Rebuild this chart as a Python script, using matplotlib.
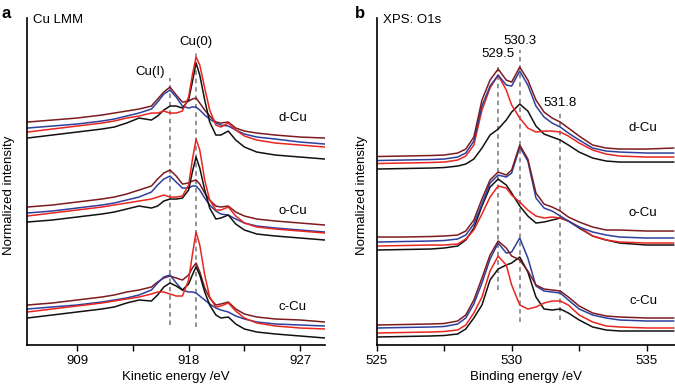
import numpy as np
import matplotlib
matplotlib.use("Agg")
import matplotlib.pyplot as plt

# ---- panel a: Cu LMM (kinetic energy, eV) ----
ke = [905, 907, 909, 911, 912, 913, 914, 915, 915.5, 916, 916.5, 917, 917.5, 918,
      918.3, 918.6, 918.9, 919.3, 919.7, 920.2, 920.6, 921.2, 921.8, 922.5, 923.5,
      925, 927, 929]

lmm_d_black = [207, 210, 213, 216, 218, 222, 227, 225, 229, 235, 239, 239, 237, 245,
               263, 282, 270, 245, 223, 210, 210, 214, 205, 198, 193, 190, 188, 186]
lmm_d_red = [213, 216, 219, 222, 224, 227, 229, 232, 232, 234, 232, 232, 234, 248,
             270, 288, 280, 257, 235, 220, 218, 222, 215, 209, 205, 202, 200, 198]
lmm_d_blue = [217, 219, 221, 224, 226, 229, 232, 236, 243, 251, 255, 248, 239, 237,
              238, 238, 235, 230, 226, 222, 220, 219, 215, 211, 208, 206, 203, 201]
lmm_d_maroon = [223, 225, 227, 230, 232, 234, 236, 239, 246, 253, 258, 250, 243, 244,
                246, 247, 242, 235, 229, 223, 222, 223, 217, 214, 212, 210, 208, 207]

lmm_o_black = [123, 125, 128, 131, 133, 136, 139, 137, 139, 144, 146, 146, 147, 155,
               173, 188, 177, 155, 137, 126, 127, 130, 121, 115, 111, 109, 107, 105]
lmm_o_red = [129, 132, 135, 138, 140, 142, 144, 146, 148, 150, 148, 148, 149, 160,
             185, 206, 195, 165, 145, 135, 135, 138, 129, 122, 118, 116, 114, 112]
lmm_o_blue = [132, 134, 137, 140, 142, 145, 148, 153, 160, 166, 169, 163, 157, 157,
              159, 159, 155, 147, 140, 134, 131, 130, 126, 122, 119, 117, 115, 113]
lmm_o_maroon = [138, 140, 143, 146, 148, 151, 155, 159, 166, 172, 175, 169, 161, 162,
                164, 165, 161, 152, 145, 139, 138, 139, 133, 129, 126, 124, 122, 120]

lmm_c_black = [27, 30, 33, 36, 38, 42, 45, 44, 50, 58, 62, 59, 55, 61,
               70, 78, 70, 53, 40, 30, 27, 28, 21, 16, 13, 11, 9, 7]
lmm_c_red = [33, 36, 39, 42, 44, 46, 48, 51, 53, 53, 51, 49, 49, 65,
             90, 113, 100, 70, 48, 38, 39, 42, 34, 27, 22, 19, 17, 16]
lmm_c_blue = [36, 38, 40, 43, 45, 47, 50, 55, 62, 68, 70, 62, 55, 53,
              53, 52, 49, 45, 41, 37, 35, 33, 29, 26, 23, 21, 20, 19]
lmm_c_maroon = [40, 42, 45, 48, 50, 53, 55, 58, 63, 67, 69, 67, 65, 70,
                77, 82, 73, 57, 47, 40, 41, 43, 36, 31, 28, 26, 25, 23]

# ---- panel b: O1s (binding energy, eV) ----
be = [525, 526, 527, 527.5, 528, 528.3, 528.6, 528.9, 529.2, 529.5, 529.8, 530.0,
      530.3, 530.6, 530.9, 531.2, 531.5, 531.8, 532.1, 532.5, 533, 533.5, 534, 535, 536]

o1s_d_maroon = [188.5, 189, 189.5, 190, 192, 196, 208, 245, 265, 276, 265, 263, 278,
                265, 245, 233, 227, 223, 217, 209, 200, 197, 196, 196, 197]
o1s_d_blue = [184.5, 185, 185.5, 186, 188, 192, 204, 239, 259, 270, 260, 259, 274,
              260, 239, 228, 222, 218, 212, 205, 197, 194, 193, 192, 192]
o1s_d_red = [181.5, 182, 182.5, 183, 185, 189, 200, 235, 257, 270, 255, 240, 227,
             217, 213, 214, 214, 213, 209, 202, 195, 191, 189, 188, 188]
o1s_d_black = [176, 176.5, 177, 177.5, 179, 181, 186, 197, 210, 216, 225, 233, 241,
               234, 219, 211, 208, 205, 200, 193, 187, 184, 183, 183, 183]

o1s_o_maroon = [108, 108, 108.5, 109, 110, 114, 125, 146, 165, 173, 170, 175, 200,
                186, 152, 141, 138, 134, 128, 123, 118, 115, 115, 114, 114]
o1s_o_blue = [103, 103.5, 104, 104.5, 106, 110, 121, 141, 162, 170, 168, 172, 198,
              184, 147, 137, 134, 129, 124, 118, 113, 110, 108, 107, 107]
o1s_o_red = [99, 99.5, 100, 100, 101, 106, 115, 131, 148, 159, 157, 150, 143,
             135, 129, 127, 128, 127, 124, 118, 109, 105, 103, 102, 102]
o1s_o_black = [95, 95.5, 96, 97, 99, 105, 117, 139, 158, 166, 160, 152, 139,
               129, 122, 123, 125, 127, 124, 117, 109, 105, 102, 100, 100]

o1s_c_maroon = [20, 20.5, 21, 21.5, 24, 30, 45, 67, 90, 104, 97, 89, 85,
                74, 60, 56, 55, 54, 48, 39, 32, 29, 28, 27, 27]
o1s_c_blue = [17, 17.5, 18, 18.5, 21, 27, 41, 62, 86, 102, 92, 93, 107,
              87, 59, 54, 53, 52, 45, 36, 30, 27, 25, 24, 24]
o1s_c_red = [12, 12.5, 13, 13.5, 15, 20, 32, 48, 74, 89, 80, 60, 40,
             36, 38, 42, 44, 44, 40, 30, 23, 19, 18, 17, 17]
o1s_c_black = [8, 8.5, 9, 9.5, 11, 16, 27, 40, 65, 76, 80, 82, 88,
               73, 48, 36, 35, 36, 32, 25, 18, 15, 14, 14, 14]

# sample labels and marker positions
samples = ["d-Cu", "o-Cu", "c-Cu"]
label_h = [227, 134, 38]
label_h_b = [217, 132, 44]

lmm_marks = [916.5, 918.6]
lmm_mark_names = ["Cu(I)", "Cu(0)"]
o1s_marks = [529.5, 530.3, 531.8]

colors = {"maroon": "#7d1b1f", "blue": "#2e3f9e", "black": "#111111", "red": "#e8261f"}

plt.rcParams['font.family'] = ['Liberation Sans', 'DejaVu Sans']

fig = plt.figure(figsize=(6.75, 3.92), dpi=100)
ax_a = fig.add_axes([0.0406, 0.1199, 0.4409, 0.834])
ax_b = fig.add_axes([0.558, 0.1199, 0.442, 0.834])


def draw_group(ax, x, curves):
    for name, y in curves:
        ax.plot(x, y, color=colors[name], lw=1.1, solid_joinstyle='round')


draw_group(ax_a, ke, [("maroon", lmm_d_maroon), ("blue", lmm_d_blue),
                      ("black", lmm_d_black), ("red", lmm_d_red)])
draw_group(ax_a, ke, [("maroon", lmm_o_maroon), ("blue", lmm_o_blue),
                      ("black", lmm_o_black), ("red", lmm_o_red)])
draw_group(ax_a, ke, [("maroon", lmm_c_maroon), ("blue", lmm_c_blue),
                      ("black", lmm_c_black), ("red", lmm_c_red)])

draw_group(ax_b, be, [("black", o1s_d_black), ("red", o1s_d_red),
                      ("blue", o1s_d_blue), ("maroon", o1s_d_maroon)])
draw_group(ax_b, be, [("black", o1s_o_black), ("red", o1s_o_red),
                      ("blue", o1s_o_blue), ("maroon", o1s_o_maroon)])
draw_group(ax_b, be, [("black", o1s_c_black), ("red", o1s_c_red),
                      ("blue", o1s_c_blue), ("maroon", o1s_c_maroon)])

# dashed guide lines
dash = dict(color='#777777', lw=1.1, ls=(0, (3, 2.5)), zorder=0)
ax_a.vlines(lmm_marks[0], 20, 267, **dash)
ax_a.vlines(lmm_marks[1], 18, 295, **dash)
ax_a.text(lmm_marks[0] - 1.6, 273, lmm_mark_names[0], fontsize=9.5, ha='center', va='center')
ax_a.text(lmm_marks[1], 303, lmm_mark_names[1], fontsize=9.5, ha='center', va='center')

ax_b.vlines(o1s_marks[0], 55, 278, **dash)
ax_b.vlines(o1s_marks[1], 23, 295, **dash)
ax_b.vlines(o1s_marks[2], 25, 232, **dash)
ax_b.text(o1s_marks[0], 291, "529.5", fontsize=9.5, ha='center', va='center')
ax_b.text(o1s_marks[1], 304, "530.3", fontsize=9.5, ha='center', va='center')
ax_b.text(o1s_marks[2], 242, "531.8", fontsize=9.5, ha='center', va='center')

for s, h in zip(samples, label_h):
    ax_a.text(926.4, h, s, fontsize=9.5, ha='center', va='center')
for s, h in zip(samples, label_h_b):
    ax_b.text(534.87, h, s, fontsize=9.5, ha='center', va='center')

for ax in (ax_a, ax_b):
    for side in ('top', 'right'):
        ax.spines[side].set_visible(False)
    ax.spines['left'].set_linewidth(1.2)
    ax.spines['bottom'].set_linewidth(1.2)
    ax.set_yticks([])
    ax.set_ylim(0, 327)
    ax.tick_params(axis='x', which='both', length=4, width=1, labelsize=9.5, pad=3)

ax_a.set_xlim(905, 929)
ax_a.set_xticks([909, 918, 927])
ax_a.set_xticks([913.5, 922.5], minor=True)
ax_a.set_xlabel("Kinetic energy /eV", fontsize=9.5, labelpad=3)

ax_b.set_xlim(525, 536.05)
ax_b.set_xticks([525, 530, 535])
ax_b.set_xticks([527.5, 532.5], minor=True)
ax_b.set_xlabel("Binding energy /eV", fontsize=9.5, labelpad=3)

fig.text(9 / 675, 1 - 195 / 392, "Normalized intensity", rotation=90, fontsize=9.5,
         ha='center', va='center')
fig.text(362 / 675, 1 - 195 / 392, "Normalized intensity", rotation=90, fontsize=9.5,
         ha='center', va='center')
fig.text(33 / 675, 1 - 20 / 392, "Cu LMM", fontsize=9.5, ha='left', va='center')
fig.text(383 / 675, 1 - 20 / 392, "XPS: O1s", fontsize=9.5, ha='left', va='center')
fig.text(2 / 675, 1 - 13 / 392, "a", fontsize=12, fontweight='bold', ha='left', va='center')
fig.text(355 / 675, 1 - 13 / 392, "b", fontsize=12, fontweight='bold', ha='left', va='center')

fig.savefig("out.png", dpi=100)
